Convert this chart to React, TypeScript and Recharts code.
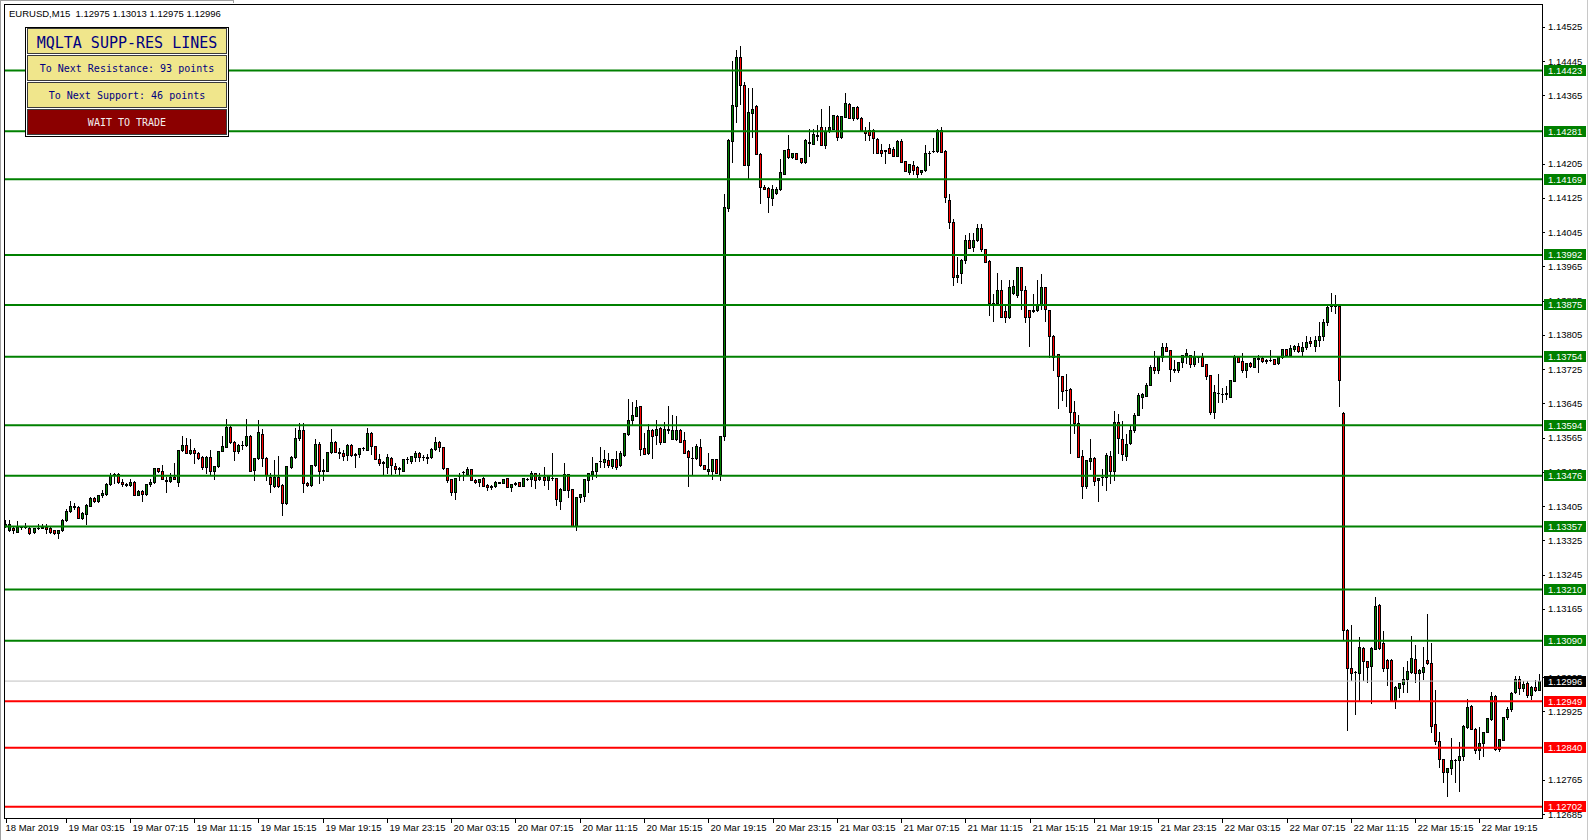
import React from "react";
import { ComposedChart, Bar, XAxis, YAxis, ReferenceLine } from "recharts";

// Candle values in points (1 point = 0.00001, so 13358 = 1.13358): [open, high, low, close]
const CANDLES_A: number[][] = [
  [13358,13373,13356,13362],[13350,13373,13346,13363],[13354,13356,13343,13348],[13345,13371,13344,13356],
  [13356,13358,13352,13355],[13355,13366,13353,13356],[13353,13355,13340,13341],[13344,13354,13342,13353],
  [13353,13363,13352,13354],[13354,13362,13353,13355],[13355,13362,13342,13352],[13353,13355,13343,13344],
  [13348,13349,13340,13341],[13341,13350,13331,13350],[13350,13375,13346,13373],[13372,13397,13370,13393],
  [13393,13416,13392,13406],[13404,13412,13397,13403],[13402,13404,13376,13377],[13377,13390,13375,13389],
  [13386,13410,13364,13408],[13406,13427,13404,13425],[13424,13426,13414,13418],[13418,13432,13414,13432],
  [13431,13443,13427,13435],[13433,13460,13431,13457],[13457,13482,13455,13478],[13478,13482,13460,13479],
  [13479,13482,13460,13462],[13462,13468,13452,13456],[13456,13458,13453,13454],[13455,13468,13451,13462],
  [13462,13463,13430,13430],[13431,13443,13430,13441],[13441,13443,13417,13433],[13433,13456,13432,13456],
  [13456,13469,13452,13462],[13462,13493,13460,13493],[13493,13495,13485,13486],[13487,13501,13468,13468],
  [13466,13474,13439,13464],[13464,13482,13462,13474],[13474,13505,13468,13469],[13462,13536,13451,13536],
  [13536,13568,13534,13548],[13548,13565,13528,13530],[13530,13562,13527,13537],[13537,13540,13506,13530],
  [13530,13532,13516,13517],[13519,13522,13491,13497],[13496,13521,13483,13520],[13520,13537,13478,13486],
  [13486,13499,13468,13499],[13499,13534,13497,13534],[13534,13568,13533,13545],[13544,13609,13542,13590],
  [13590,13592,13552,13554],[13554,13556,13513,13534],[13534,13550,13530,13548],[13548,13556,13538,13547],
  [13548,13609,13545,13568],[13568,13570,13486,13486],[13489,13517,13466,13517],[13517,13607,13515,13577],
];
const CANDLES_B: number[][] = [
  [13573,13586,13499,13517],[13517,13519,13466,13478],[13474,13482,13437,13456],[13452,13513,13450,13474],
  [13474,13522,13450,13452],[13455,13456,13385,13413],[13413,13499,13410,13499],[13496,13522,13495,13520],
  [13520,13588,13518,13563],[13563,13599,13560,13582],[13582,13599,13439,13458],[13458,13462,13451,13455],
  [13455,13501,13452,13501],[13501,13561,13499,13550],[13550,13555,13460,13488],[13488,13515,13466,13489],
  [13488,13532,13487,13532],[13532,13585,13528,13555],[13555,13557,13532,13532],[13532,13540,13518,13530],
  [13530,13536,13513,13522],[13524,13551,13513,13548],[13548,13550,13522,13524],[13527,13530,13496,13524],
  [13527,13541,13519,13541],[13540,13544,13537,13541],[13537,13588,13536,13575],[13575,13577,13527,13545],
  [13545,13546,13514,13514],[13514,13527,13501,13505],[13509,13510,13478,13506],[13496,13527,13482,13520],
  [13517,13520,13479,13501],[13499,13505,13482,13491],[13491,13496,13480,13494],[13488,13516,13486,13515],
  [13515,13520,13506,13514],[13511,13522,13505,13522],[13520,13534,13511,13530],[13530,13532,13511,13519],
  [13519,13524,13513,13520],[13519,13527,13506,13518],[13519,13540,13518,13538],[13538,13567,13536,13554],
  [13554,13558,13534,13542],[13542,13544,13491,13493],[13493,13495,13462,13465],[13468,13469,13431,13439],
  [13439,13470,13422,13470],[13475,13482,13466,13477],[13484,13486,13466,13485],[13480,13496,13479,13491],
  [13491,13492,13466,13466],[13466,13468,13458,13462],[13462,13469,13453,13469],[13471,13472,13453,13453],
  [13455,13456,13443,13449],[13452,13455,13445,13449],[13452,13463,13450,13462],[13461,13462,13459,13460],
  [13460,13468,13459,13468],[13470,13471,13449,13449],[13449,13457,13441,13456],
];
const CANDLES_C: number[][] = [
  [13457,13461,13455,13458],[13461,13462,13453,13453],[13453,13470,13452,13470],[13469,13470,13467,13468],
  [13469,13487,13453,13482],[13482,13483,13447,13465],[13469,13482,13465,13472],[13472,13496,13455,13465],
  [13465,13476,13445,13475],[13470,13528,13466,13471],[13470,13471,13408,13421],[13418,13447,13397,13445],
  [13443,13505,13442,13479],[13479,13480,13427,13443],[13445,13446,13358,13358],[13358,13427,13349,13427],
  [13426,13434,13414,13434],[13429,13469,13418,13469],[13466,13482,13439,13482],[13480,13519,13468,13487],
  [13486,13506,13474,13506],[13510,13542,13497,13511],[13508,13537,13497,13514],[13513,13530,13496,13501],
  [13499,13515,13493,13515],[13515,13534,13492,13497],[13500,13534,13499,13528],[13524,13575,13522,13575],
  [13573,13656,13572,13606],[13606,13648,13596,13617],[13616,13654,13615,13637],[13638,13640,13524,13538],
  [13540,13575,13526,13526],[13528,13596,13527,13582],[13582,13584,13518,13569],[13571,13606,13550,13586],
  [13588,13590,13551,13555],[13555,13602,13554,13584],[13584,13638,13575,13583],[13562,13617,13561,13582],
  [13561,13616,13560,13582],[13582,13586,13555,13555],[13559,13579,13528,13530],[13534,13535,13452,13519],
  [13517,13544,13480,13518],[13517,13550,13516,13545],[13542,13562,13499,13500],[13501,13502,13491,13491],
  [13487,13528,13480,13492],[13487,13515,13468,13515],[13515,13516,13482,13482],[13480,13568,13466,13568],
];
const CANDLES_D: number[][] = [
  [13568,14134,13560,14104],[14101,14262,14095,14260],[14259,14445,14210,14342],[14340,14471,14303,14455],
  [14455,14481,14344,14389],[14389,14397,14202,14202],[14202,14381,14171,14326],[14324,14381,14268,14333],
  [14340,14342,14228,14228],[14228,14230,14114,14150],[14150,14155,14145,14147],[14149,14151,14093,14128],
  [14126,14155,14108,14147],[14136,14150,14134,14147],[14146,14217,14144,14185],[14181,14237,14180,14237],
  [14239,14273,14218,14220],[14220,14230,14218,14229],[14229,14231,14215,14216],[14218,14219,14207,14208],
  [14208,14262,14207,14260],[14254,14287,14223,14255],[14252,14287,14250,14274],[14272,14295,14260,14271],
  [14291,14333,14248,14248],[14248,14291,14241,14281],[14281,14340,14280,14290],[14287,14320,14286,14319],
  [14316,14319,14260,14268],[14268,14317,14266,14316],[14315,14371,14314,14347],[14344,14346,14311,14311],
  [14311,14338,14307,14337],[14338,14340,14310,14311],[14313,14314,14284,14284],[14281,14290,14260,14276],
  [14284,14303,14260,14273],[14285,14286,14231,14266],[14264,14265,14231,14231],[14237,14252,14223,14231],
  [14236,14238,14207,14235],[14241,14252,14230,14231],[14239,14245,14224,14224],[14224,14260,14222,14258],
  [14258,14264,14208,14208],[14211,14212,14189,14189],[14186,14205,14181,14204],[14202,14211,14181,14190],
  [14198,14199,14175,14181],[14185,14191,14180,14190],[14190,14248,14188,14231],[14231,14235,14202,14230],
  [14234,14266,14232,14235],[14234,14287,14233,14285],[14285,14290,14233,14233],[14234,14236,14116,14128],
];
const CANDLES_E: number[][] = [
  [14120,14134,14056,14069],[14068,14075,13922,13941],[13941,13988,13929,13945],[13949,13983,13927,13981],
  [13981,14038,13974,14027],[14026,14044,14009,14009],[14011,14044,14000,14027],[14027,14065,14025,14056],
  [14056,14065,14000,14005],[14005,14006,13976,13976],[13978,13979,13852,13879],[13879,13901,13838,13878],
  [13879,13950,13877,13910],[13910,13933,13846,13848],[13862,13874,13834,13848],[13848,13933,13844,13918],
  [13902,13933,13900,13919],[13898,13963,13894,13963],[13963,13964,13865,13911],[13911,13919,13836,13848],
  [13863,13864,13779,13848],[13863,13901,13859,13862],[13863,13933,13862,13876],[13875,13947,13865,13916],
  [13916,13918,13838,13865],[13863,13864,13754,13803],[13803,13804,13723,13754],[13760,13761,13635,13708],
  [13709,13710,13652,13673],[13677,13713,13639,13676],[13678,13680,13530,13624],[13625,13651,13575,13600],
  [13600,13618,13519,13519],[13521,13537,13424,13451],[13451,13512,13448,13512],[13510,13561,13492,13517],
  [13517,13520,13455,13463],[13465,13470,13418,13470],[13474,13492,13455,13473],[13474,13529,13443,13525],
  [13521,13534,13460,13486],[13486,13627,13466,13601],[13601,13620,13530,13564],[13562,13603,13513,13526],
  [13523,13573,13512,13550],[13552,13592,13550,13583],[13582,13622,13579,13618],[13618,13669,13617,13665],
  [13661,13669,13634,13667],[13663,13692,13662,13688],[13688,13735,13687,13729],[13729,13768,13715,13722],
  [13722,13754,13715,13753],[13753,13787,13745,13776],
];
const CANDLES_F: number[][] = [
  [13776,13785,13767,13767],[13769,13770,13698,13726],[13726,13746,13718,13723],[13723,13742,13718,13742],
  [13742,13759,13731,13757],[13757,13772,13739,13762],[13757,13759,13731,13736],[13736,13767,13732,13754],
  [13754,13755,13742,13753],[13754,13762,13732,13732],[13736,13737,13702,13709],[13711,13712,13621,13624],
  [13624,13688,13611,13671],[13669,13713,13648,13670],[13668,13682,13648,13667],[13668,13685,13655,13669],
  [13661,13700,13659,13699],[13698,13759,13697,13754],[13754,13756,13742,13742],[13745,13763,13718,13722],
  [13723,13739,13707,13739],[13739,13742,13731,13732],[13731,13750,13730,13750],[13750,13757,13718,13749],
  [13750,13755,13742,13744],[13744,13749,13739,13746],[13746,13769,13744,13747],[13748,13749,13738,13738],
  [13739,13755,13738,13754],[13754,13772,13752,13772],[13771,13772,13757,13757],[13757,13782,13756,13775],
  [13771,13782,13767,13779],[13779,13786,13765,13767],[13767,13788,13757,13776],[13776,13803,13772,13789],
  [13790,13800,13780,13785],[13780,13803,13767,13794],[13793,13836,13780,13802],[13802,13842,13793,13836],
  [13834,13877,13829,13871],[13873,13902,13860,13872],[13873,13898,13856,13874],[13873,13875,13638,13700],
];
const CANDLES_G: number[][] = [
  [13623,13624,13094,13116],[13116,13118,12881,13027],[13027,13126,12999,13014],[13018,13020,12919,13017],
  [13014,13098,12952,13076],[13074,13076,12998,13042],[13042,13044,12995,13030],[13032,13076,12944,13074],
  [13072,13193,13070,13172],[13174,13176,13072,13074],[13084,13114,13019,13026],[13046,13048,12986,13027],
  [13046,13048,12952,12952],[12952,12985,12933,12983],[12979,12992,12958,12991],[12990,13028,12970,13000],
  [13000,13042,12970,13019],[13018,13102,13016,13050],[13048,13080,12994,13016],[13016,13024,12952,13022],
  [13018,13076,13002,13028],[13046,13152,13036,13039],[13039,13086,12877,12892],[12895,12975,12849,12857],
  [12857,12876,12795,12813],[12813,12815,12760,12784],[12784,12794,12727,12794],[12794,12863,12778,12811],
  [12812,12814,12761,12811],[12812,12853,12739,12822],[12820,12893,12811,12891],[12888,12954,12887,12935],
  [12937,12940,12885,12885],[12885,12887,12827,12835],[12835,12888,12815,12851],[12851,12878,12822,12877],
  [12877,12910,12876,12909],[12907,12970,12906,12960],[12962,12964,12834,12837],[12837,12861,12832,12861],
  [12859,12912,12858,12912],[12912,12935,12907,12931],[12931,12971,12925,12968],[12970,13008,12969,13000],
  [13002,13008,12966,12979],[12979,12996,12972,12988],[12991,12996,12958,12963],[12963,12985,12954,12982],
  [12982,12998,12972,12976],[12975,13013,12975,12996],
];

const RESISTANCE = [1.14423, 1.14281, 1.14169, 1.13992, 1.13875, 1.13754, 1.13594, 1.13476, 1.13357, 1.1321, 1.1309];
const SUPPORT = [1.12949, 1.1284, 1.12702];
const CURRENT = 1.12996;
// Price scale ticks (those fully hidden under the level labels are left out)
const PRICE_TICKS = [
  1.14525, 1.14445, 1.14365, 1.14205, 1.14125, 1.14045, 1.13965, 1.13885, 1.13805, 1.13725, 1.13645,
  1.13565, 1.13485, 1.13405, 1.13325, 1.13245, 1.13165, 1.13005, 1.12925, 1.12765, 1.12685,
];
const TIME_TICK_INDEX = [0, 15, 31, 47, 63, 79, 95, 111, 127, 143, 159, 175, 191, 207, 223, 239, 255, 271, 287, 303, 319, 335, 351, 367];
const TIME_LABELS = [
  "18 Mar 2019", "19 Mar 03:15", "19 Mar 07:15", "19 Mar 11:15", "19 Mar 15:15", "19 Mar 19:15", "19 Mar 23:15",
  "20 Mar 03:15", "20 Mar 07:15", "20 Mar 11:15", "20 Mar 15:15", "20 Mar 19:15", "20 Mar 23:15",
  "21 Mar 03:15", "21 Mar 07:15", "21 Mar 11:15", "21 Mar 15:15", "21 Mar 19:15", "21 Mar 23:15",
  "22 Mar 03:15", "22 Mar 07:15", "22 Mar 11:15", "22 Mar 15:15", "22 Mar 19:15",
];
const HEADER = "EURUSD,M15  1.12975 1.13013 1.12975 1.12996";
const PANEL_TITLE = "MQLTA SUPP-RES LINES";
const PANEL_RES = "To Next Resistance: 93 points";
const PANEL_SUP = "To Next Support: 46 points";
const PANEL_STATE = "WAIT TO TRADE";

const P = (v: number) => Math.round(100000 + v) / 1e5;
const ALL = [...CANDLES_A, ...CANDLES_B, ...CANDLES_C, ...CANDLES_D, ...CANDLES_E, ...CANDLES_F, ...CANDLES_G];
const DATA = ALL.map(([o, h, l, c], i) => ({
  i,
  open: P(o),
  high: P(h),
  low: P(l),
  close: P(c),
  range: [P(l), P(h)],
}));

const W = 1590;
const H = 840;
const SANS = '"Liberation Sans", Arial, sans-serif';
const MONO = '"DejaVu Sans Mono", monospace';
const GREEN = "#008000";
const RED = "#ff0000";

function Candle(props: any) {
  const { x, y, width, height } = props;
  const d = props.payload || props;
  if (x == null || y == null || d == null || d.high == null) return <g />;
  const top = Math.min(y, y + height);
  const span = Math.abs(height);
  const rng = d.high - d.low;
  const py = (v: number) => (rng > 0 ? top + ((d.high - v) / rng) * span : top);
  const cx = Math.floor(x + width / 2) + 0.5;
  const up = d.close >= d.open;
  const yh = Math.round(py(d.high));
  const yl = Math.round(py(d.low));
  const b1 = Math.round(py(Math.max(d.open, d.close)));
  const b2 = Math.round(py(Math.min(d.open, d.close)));
  return (
    <g shapeRendering="crispEdges">
      <line x1={cx} x2={cx} y1={yh} y2={yl + 1} stroke="#000" strokeWidth={1} />
      {b2 - b1 >= 1 ? (
        <rect x={cx - 1} y={b1 + 0.5} width={2} height={b2 - b1} fill={up ? GREEN : RED} stroke="#000" strokeWidth={1} />
      ) : (
        <line x1={cx - 1.5} x2={cx + 1.5} y1={b1 + 0.5} y2={b1 + 0.5} stroke="#000" strokeWidth={1} />
      )}
    </g>
  );
}

function TimeTick(props: any) {
  const { x, y, payload } = props;
  const k = TIME_TICK_INDEX.indexOf(payload.value);
  if (k < 0) return <g />;
  const tx = Math.floor(x) + 0.5;
  return (
    <g>
      <line x1={tx} x2={tx} y1={y} y2={y + 5} stroke="#000" shapeRendering="crispEdges" />
      <text x={k === 0 ? tx - 1 : tx + 2} y={y + 12.5} fontFamily={SANS} fontSize={9.5} fill="#000">
        {TIME_LABELS[k]}
      </text>
    </g>
  );
}

function PriceTick(props: any) {
  const { x, y, payload } = props;
  const v: number = payload.value;
  let box: string | null = null;
  if (RESISTANCE.includes(v)) box = GREEN;
  else if (SUPPORT.includes(v)) box = RED;
  else if (v === CURRENT) box = "#000";
  const label = v.toFixed(5);
  if (box) {
    return (
      <g>
        <rect x={x + 2} y={y - 5.5} width={42} height={11} fill={box} shapeRendering="crispEdges" />
        <text x={x + 6} y={y + 3.5} fontFamily={SANS} fontSize={9.5} fill="#fff">{label}</text>
      </g>
    );
  }
  return (
    <g>
      <line x1={x} x2={x + 3} y1={Math.round(y) + 0.5} y2={Math.round(y) + 0.5} stroke="#000" shapeRendering="crispEdges" />
      <text x={x + 6} y={y + 3.5} fontFamily={SANS} fontSize={9.5} fill="#000">{label}</text>
    </g>
  );
}

function Overlay() {
  const cells = [
    { y: 28.5, fill: "#f0e68c" },
    { y: 55.5, fill: "#f0e68c" },
    { y: 82.5, fill: "#f0e68c" },
    { y: 109.5, fill: "#8b0000" },
  ];
  return (
    <svg width={W} height={H} style={{ position: "absolute", left: 0, top: 0, pointerEvents: "none" }}>
      <line x1={0.5} x2={0.5} y1={0} y2={H} stroke="#a0a0a0" />
      <line x1={1587.5} x2={1587.5} y1={0} y2={H} stroke="#c8c8c8" />
      <line x1={0} x2={233} y1={0.5} y2={0.5} stroke="#a0a0a0" />
      <line x1={233.5} x2={233.5} y1={0} y2={3} stroke="#a0a0a0" />
      <rect x={4.5} y={4.5} width={1538} height={813.5} fill="none" stroke="#000" shapeRendering="crispEdges" />
      <text x={9} y={17} fontFamily={SANS} fontSize={9.5} fill="#000" style={{ whiteSpace: "pre" }}>{HEADER}</text>
      <rect x={25.5} y={27.5} width={203} height={109} fill="#fff" stroke="#000" shapeRendering="crispEdges" />
      {cells.map((c, k) => (
        <rect key={k} x={27.5} y={c.y} width={199} height={24.5} fill={c.fill} stroke="#3a3a3a" shapeRendering="crispEdges" />
      ))}
      <text x={127} y={47.5} textAnchor="middle" fontFamily={MONO} fontSize={15} fill="#000080">{PANEL_TITLE}</text>
      <text x={127} y={71.5} textAnchor="middle" fontFamily={MONO} fontSize={10} fill="#000080">{PANEL_RES}</text>
      <text x={127} y={98.5} textAnchor="middle" fontFamily={MONO} fontSize={10} fill="#000080">{PANEL_SUP}</text>
      <text x={127} y={125.5} textAnchor="middle" fontFamily={MONO} fontSize={10} fill="#f4eeee">{PANEL_STATE}</text>
    </svg>
  );
}

export default function App() {
  return (
    <div style={{ position: "absolute", left: 0, top: 0, width: W, height: H, background: "#fff", overflow: "hidden" }}>
      <ComposedChart width={W} height={H} data={DATA} margin={{ top: 5, right: 0, bottom: 0, left: 4 }}>
        <XAxis
          dataKey="i"
          type="category"
          height={22}
          ticks={TIME_TICK_INDEX}
          interval={0}
          tickLine={false}
          axisLine={false}
          tickSize={0}
          tickMargin={0}
          tick={TimeTick}
        />
        <YAxis
          orientation="right"
          type="number"
          width={48}
          domain={[1.12676, 1.14576]}
          allowDataOverflow
          ticks={[...PRICE_TICKS, CURRENT, ...RESISTANCE, ...SUPPORT]}
          interval={0}
          tickLine={false}
          axisLine={false}
          tickSize={0}
          tickMargin={0}
          tick={PriceTick}
        />
        <ReferenceLine y={CURRENT} stroke="#c0c0c0" strokeWidth={1} />
        <Bar dataKey="range" shape={Candle} isAnimationActive={false} />
        {RESISTANCE.map((v) => (
          <ReferenceLine key={"r" + v} y={v} stroke={GREEN} strokeWidth={2} />
        ))}
        {SUPPORT.map((v) => (
          <ReferenceLine key={"s" + v} y={v} stroke={RED} strokeWidth={2} />
        ))}
      </ComposedChart>
      <Overlay />
    </div>
  );
}
